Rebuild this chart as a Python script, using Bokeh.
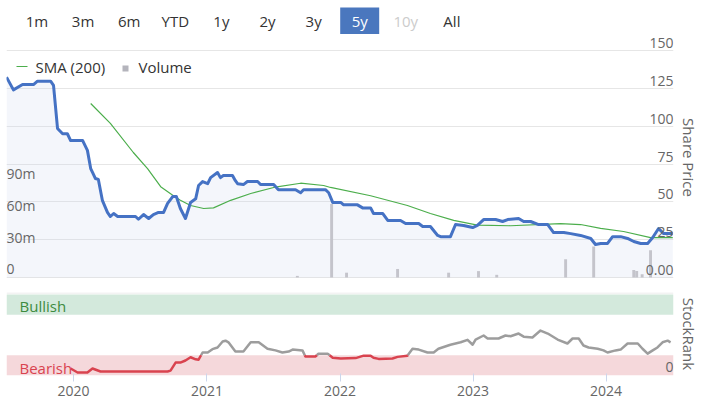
import numpy as np
import pandas as pd
from bokeh.plotting import figure
from bokeh.layouts import column
from bokeh.models import (Range1d, FixedTicker, Label, BoxAnnotation, Title, Span, Grid,
                          DatetimeTickFormatter)
from bokeh.core.properties import value
from bokeh.embed import file_html
from bokeh.resources import INLINE

# ---------------- data ----------------
x_start, x_end = "2019-07-01", "2024-07-04"

price_dates = [
    "2019-07-01", "2019-07-20", "2019-08-14", "2019-09-13", "2019-09-24", "2019-10-30", "2019-11-07", "2019-11-18", "2019-12-02", "2019-12-15", "2019-12-24",
    "2020-01-26", "2020-02-08", "2020-02-17", "2020-02-22", "2020-03-01", "2020-03-09", "2020-03-20", "2020-04-03", "2020-04-11", "2020-04-20", "2020-05-01",
    "2020-06-19", "2020-06-27", "2020-07-11", "2020-07-25", "2020-08-07", "2020-08-21", "2020-09-04", "2020-09-15", "2020-09-29", "2020-10-09",
    "2020-10-20", "2020-11-03", "2020-11-17", "2020-12-01", "2020-12-09", "2020-12-20", "2021-01-03", "2021-01-11", "2021-01-30", "2021-02-07",
    "2021-02-15", "2021-03-12", "2021-03-20", "2021-03-26", "2021-04-11", "2021-04-22", "2021-05-20", "2021-05-28", "2021-07-03", "2021-07-16",
    "2021-09-01", "2021-09-15", "2021-09-23", "2021-11-22", "2021-12-01", "2021-12-12", "2022-01-03", "2022-01-11", "2022-02-18", "2022-03-04",
    "2022-03-26", "2022-04-03", "2022-04-28", "2022-05-12", "2022-06-16", "2022-06-30", "2022-08-05", "2022-08-16", "2022-09-06", "2022-09-26",
    "2022-10-04", "2022-10-31", "2022-11-14", "2022-12-06", "2022-12-31", "2023-01-13", "2023-01-30", "2023-03-04", "2023-03-23", "2023-04-06",
    "2023-05-06", "2023-05-20", "2023-06-08", "2023-06-30", "2023-07-25", "2023-08-10", "2023-09-07", "2023-09-26", "2023-10-23", "2023-11-20",
    "2023-12-03", "2023-12-17", "2024-01-05", "2024-01-19", "2024-02-10", "2024-02-29", "2024-03-17", "2024-04-05", "2024-04-24", "2024-05-08",
    "2024-05-24", "2024-06-07", "2024-07-02",
]
price_values = [
    132.4, 124, 127.5, 127.5, 129.7, 129.7, 127, 98.5, 95, 95, 90.5,
    90.5, 84, 72, 69.4, 65.4, 64.8, 51, 43, 40.3, 42.3, 40.3,
    40.3, 38.5, 41.6, 39, 41.6, 43, 43, 49, 53.5, 53.5,
    45.6, 39, 49.6, 52, 60.8, 63.4, 62, 66, 69.4, 66,
    67.4, 67.4, 64, 62, 61.4, 63.4, 63.4, 61.4, 61.4, 58,
    58, 56, 58, 58, 56, 49.6, 49.6, 48, 48, 46,
    46, 42.3, 42.3, 37.7, 37.7, 35.7, 35.7, 33.7, 33.7, 27.8,
    27, 27, 35, 34.4, 33, 34.4, 38.3, 38.3, 37, 38.3,
    39, 37, 37, 35, 35, 29.7, 29.7, 29, 27.8, 25.8,
    21.8, 22.5, 22.5, 27, 27, 25.8, 23.8, 22.5, 22.5, 26.4,
    32.4, 29, 29,
]

sma_dates = [
    "2020-02-17", "2020-04-11", "2020-06-13", "2020-07-22", "2020-08-27", "2020-10-01", "2020-10-20",
    "2020-11-17", "2020-12-23", "2021-01-19", "2021-03-07", "2021-05-01", "2021-07-03", "2021-09-15",
    "2021-11-17", "2021-12-06", "2022-03-26", "2022-07-05", "2022-09-06", "2022-11-09", "2023-01-13",
    "2023-04-14", "2023-08-29", "2023-10-23", "2023-12-17", "2024-02-18", "2024-05-02", "2024-07-02",
]
sma_values = [
    115, 101.8, 82.6, 72, 60, 54, 51,
    47.6, 45.6, 46, 51, 55.5, 59.5, 62.3,
    60.8, 59.5, 54, 47.6, 42.3, 37.7, 34.6,
    34.2, 35.6, 35, 32.5, 30.4, 26.4, 26.4,
]

volume_dates = ["2021-09-06", "2021-12-09", "2022-01-19", "2022-06-08", "2022-10-26", "2023-01-16",
                "2023-03-07", "2023-09-12", "2023-11-28", "2024-03-17", "2024-03-25", "2024-04-09", "2024-05-02"]
volume_millions = [1.5, 69, 4.5, 8, 4.5, 6, 2.5, 17, 29, 7, 6, 3, 25.5]

rank_dates = [
    "2019-12-24", "2020-01-12", "2020-02-08", "2020-02-22", "2020-03-15", "2020-06-13", "2020-09-15", "2020-09-23", "2020-10-07", "2020-10-20",
    "2020-11-03", "2020-11-17", "2020-12-01", "2020-12-09", "2020-12-20", "2021-01-03", "2021-01-16", "2021-01-30", "2021-02-13", "2021-02-21",
    "2021-03-01", "2021-03-20", "2021-04-11", "2021-05-01", "2021-05-23", "2021-06-16", "2021-07-08", "2021-07-27", "2021-08-13", "2021-08-24",
    "2021-09-20", "2021-09-28", "2021-10-26", "2021-11-03", "2021-11-28", "2021-12-12", "2022-01-03", "2022-02-13", "2022-03-07", "2022-03-26",
    "2022-04-03", "2022-04-17", "2022-05-25", "2022-06-08", "2022-07-05", "2022-07-19", "2022-08-05", "2022-08-29", "2022-09-15", "2022-09-28",
    "2022-10-31", "2022-11-28", "2022-12-17", "2022-12-31", "2023-01-08", "2023-01-30", "2023-02-10", "2023-03-12", "2023-03-31", "2023-04-14",
    "2023-05-06", "2023-05-20", "2023-06-13", "2023-07-05", "2023-07-25", "2023-08-21", "2023-09-17", "2023-10-01", "2023-10-18", "2023-10-31",
    "2023-11-14", "2023-12-09", "2023-12-25", "2024-01-05", "2024-01-27", "2024-02-10", "2024-02-29", "2024-03-28", "2024-04-10", "2024-04-24",
    "2024-05-08", "2024-05-21", "2024-06-04", "2024-06-18", "2024-06-26",
]
rank_values = [
    8.6, 3.7, 3.7, 8.6, 5, 5, 5, 6, 16, 16,
    18.5, 22.5, 20, 19.5, 28.4, 28.4, 32.5, 34.6, 42, 43,
    41, 29.6, 29.6, 41, 41, 33, 31, 28.4, 29.6, 32,
    31, 23.5, 23.5, 27, 27, 22, 21, 21.5, 24.5, 24.5,
    22, 20.5, 21, 23, 24.5, 33, 32, 28.4, 28.4, 33,
    38, 41, 44, 38, 44.4, 49.4, 45.7, 45.7, 49.4, 48.5,
    51.8, 48, 47, 55.5, 51.8, 44.4, 39.5, 45.7, 45.7, 37,
    34.6, 33, 31, 28.4, 31, 32, 39.5, 39.5, 33, 27,
    31, 34.6, 41, 43, 41,
]

price_ticks = [0, 25, 50, 75, 100, 125, 150]
price_tick_labels = ["0.00", "25", "50", "75", "100", "125", "150"]
volume_ticks = [0, 30, 60, 90]
volume_tick_labels = ["0", "30m", "60m", "90m"]
year_ticks = ["2020-01-01", "2021-01-01", "2022-01-01", "2023-01-01", "2024-01-01"]
bearish_band = (0, 25)
bullish_band = (75, 100)
rank_threshold = 25
range_buttons = ["1m", "3m", "6m", "YTD", "1y", "2y", "3y", "5y", "10y", "All"]
selected_button = "5y"
disabled_buttons = ["10y"]

# ---------------- helpers ----------------
FONT = "Open Sans"


def ms(dates):
    return (pd.to_datetime(dates).asi8 // 10**6).astype(float)


def split_zones(xs, ys, thr):
    low, high = [], []
    cx, cy = [xs[0]], [ys[0]]
    cur_low = ys[0] < thr
    for i in range(1, len(xs)):
        x0, y0, x1, y1 = xs[i - 1], ys[i - 1], xs[i], ys[i]
        is_low = y1 < thr
        if is_low != cur_low:
            t = (thr - y0) / (y1 - y0)
            xc = x0 + t * (x1 - x0)
            cx.append(xc); cy.append(thr)
            (low if cur_low else high).append((cx, cy))
            cx, cy = [xc], [thr]
            cur_low = is_low
        cx.append(x1); cy.append(y1)
    (low if cur_low else high).append((cx, cy))
    return low, high


W = 706
LEFT = 6
RIGHT = 33
FRAME_W = W - LEFT - RIGHT

x_range = Range1d(start=ms([x_start])[0], end=ms([x_end])[0])

# ---------------- range selector ----------------
BTN_H = 34
pb = figure(width=W, height=BTN_H, x_range=Range1d(LEFT, W - RIGHT), y_range=Range1d(BTN_H, 0),
            x_axis_location=None, y_axis_location=None, min_border_left=LEFT,
            min_border_right=RIGHT, min_border_top=0, min_border_bottom=0,
            output_backend="svg", toolbar_location=None)
pb.grid.visible = False
pb.outline_line_color = None
btn_x = [36.5 + 46.1 * i for i in range(len(range_buttons))]
btn_colors = ["#ffffff" if b == selected_button else ("#cccccc" if b in disabled_buttons else "#333333")
              for b in range_buttons]
si = range_buttons.index(selected_button)
pb.quad(left=[btn_x[si] - 19.5], right=[btn_x[si] + 19.5], top=[7], bottom=[34],
        fill_color="#4a77be", line_color=None)
pb.text(x=btn_x, y=[20.5] * len(range_buttons), text=range_buttons, text_align="center",
        text_baseline="middle", text_font=value(FONT), text_font_size="15px", text_color=btn_colors)

# ---------------- main price chart ----------------
PX_PER_UNIT = 227 / 150.0
PX_PER_M = 32 / 30.0
FRAME_H = 242
p = figure(width=W, height=2 + FRAME_H, x_axis_type="datetime", x_range=x_range,
           y_range=Range1d(-1 / PX_PER_UNIT, (FRAME_H - 1) / PX_PER_UNIT),
           x_axis_location=None, y_axis_location=None,
           min_border_left=LEFT, min_border_right=RIGHT, min_border_top=2, min_border_bottom=0,
           output_backend="svg", toolbar_location=None)
p.outline_line_color = None
p.xgrid.visible = False
p.ygrid.visible = False
p.add_layout(Grid(dimension=1, ticker=FixedTicker(ticks=price_ticks), grid_line_color="#e6e6e6"))
p.extra_y_ranges = {"vol": Range1d(-1 / PX_PER_M, (FRAME_H - 1) / PX_PER_M)}

px = ms(price_dates)
p.varea(x=px, y1=np.zeros(len(px)), y2=price_values, fill_color="#c8d2eb", fill_alpha=0.2)
p.vbar(x=ms(volume_dates), top=volume_millions, width=8 * 86400000, y_range_name="vol",
       fill_color="#c4c4cb", line_color=None)
p.line(ms(sma_dates), sma_values, line_color="#4cae4c", line_width=1.2)
p.line(px, price_values, line_color="#4572c4", line_width=3, line_join="round")

for v, lab in zip(price_ticks, price_tick_labels):
    p.add_layout(Label(x=FRAME_W, x_units="screen", y=v, text=lab, text_align="right",
                       text_baseline="middle", y_offset=7.5, text_font=FONT,
                       text_font_size="14px", text_color="#666666"))
for v, lab in zip(volume_ticks, volume_tick_labels):
    p.add_layout(Label(x=0, x_units="screen", y=v, y_range_name="vol", text=lab, text_align="left",
                       text_baseline="middle", y_offset=8.5, text_font=FONT,
                       text_font_size="14px", text_color="#666666"))

# legend (Highcharts style, placed top-left inside the plot)
p.add_layout(BoxAnnotation(left=10, right=21, bottom=211.4, top=212.6, left_units="screen",
                           right_units="screen", top_units="screen", bottom_units="screen",
                           fill_color="#4cae4c", fill_alpha=1, line_color=None))
p.add_layout(Label(x=29, y=212, x_units="screen", y_units="screen", text="SMA (200)",
                   text_baseline="middle", text_font=FONT, text_font_size="15px", text_color="#333333"))
p.add_layout(BoxAnnotation(left=116, right=122, bottom=207, top=213, left_units="screen",
                           right_units="screen", top_units="screen", bottom_units="screen",
                           fill_color="#b4b4bc", fill_alpha=1, line_color=None))
p.add_layout(Label(x=132, y=212, x_units="screen", y_units="screen", text="Volume",
                   text_baseline="middle", text_font=FONT, text_font_size="15px", text_color="#333333"))

p.add_layout(Title(text="Share Price", align="center", text_font=FONT, text_font_size="15px",
                   text_font_style="normal", text_color="#666666", standoff=10), "right")

# ---------------- StockRank panel ----------------
ps = figure(width=W, height=121, x_axis_type="datetime", x_range=x_range, y_range=Range1d(0, 102.5),
            y_axis_location=None, min_border_left=LEFT, min_border_right=RIGHT, min_border_top=14,
            min_border_bottom=24, output_backend="svg", toolbar_location=None)
ps.grid.visible = False
ps.outline_line_color = None
ps.add_layout(BoxAnnotation(bottom=bullish_band[0], top=bullish_band[1], fill_color="#d3e9dc",
                            fill_alpha=1, line_color=None, level="underlay"))
ps.add_layout(BoxAnnotation(bottom=bearish_band[0], top=bearish_band[1], fill_color="#f5d8db",
                            fill_alpha=1, line_color=None, level="underlay"))
ps.add_layout(Span(location=101.9, dimension="width", line_color="#e6e6e6", line_width=1, level="underlay"))

low, high = split_zones(list(ms(rank_dates)), rank_values, rank_threshold)
ps.multi_line(xs=[s[0] for s in high], ys=[s[1] for s in high], line_color="#9d9d9d", line_width=2.5,
              line_join="round")
ps.multi_line(xs=[s[0] for s in low], ys=[s[1] for s in low], line_color="#d9434f", line_width=2.5,
              line_join="round")

ps.add_layout(Label(x=13, x_units="screen", y=bullish_band[0], text="Bullish", text_baseline="middle",
                    y_offset=8.5, text_font=FONT, text_font_size="15px", text_color="#3d8b40"))
ps.add_layout(Label(x=13, x_units="screen", y=bearish_band[0], text="Bearish", text_baseline="middle",
                    y_offset=8, text_font=FONT, text_font_size="15px", text_color="#d9434f"))
ps.add_layout(Label(x=FRAME_W, x_units="screen", y=0, text="0", text_align="right",
                    text_baseline="middle", y_offset=8.5, text_font=FONT, text_font_size="14px",
                    text_color="#666666"))

ps.xaxis.ticker = FixedTicker(ticks=list(ms(year_ticks)))
ps.xaxis.formatter = DatetimeTickFormatter(years="%Y", months="%Y", days="%Y")
ps.xaxis.axis_line_color = None
ps.xaxis.major_tick_line_color = "#ccd6eb"
ps.xaxis.major_tick_in = 2
ps.xaxis.major_tick_out = 6
ps.xaxis.minor_tick_line_color = None
ps.xaxis.major_label_standoff = 4
ps.xaxis.major_label_text_font = FONT
ps.xaxis.major_label_text_font_size = "14px"
ps.xaxis.major_label_text_color = "#666666"

ps.add_layout(Title(text="StockRank", align="center", text_font=FONT, text_font_size="15px",
                    text_font_style="normal", text_color="#666666", standoff=10), "right")

layout = column(pb, p, ps)
open("out.html", "w").write(file_html(layout, INLINE))
